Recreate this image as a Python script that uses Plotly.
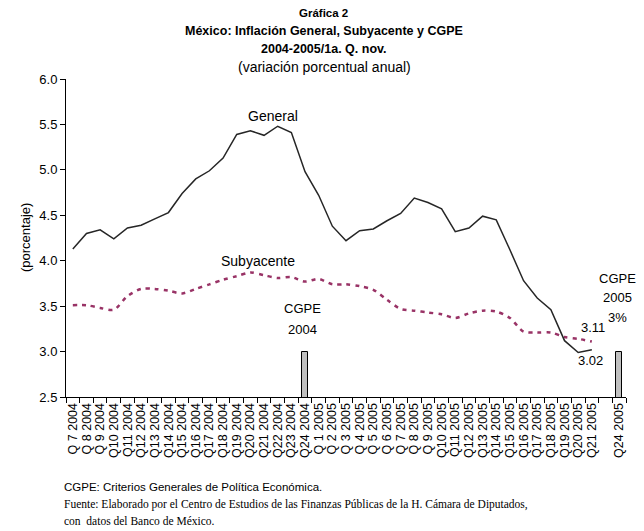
import plotly.graph_objects as go

# ---- data ----
cats_2004 = ["Q 7 2004", "Q 8 2004", "Q 9 2004", "Q10 2004", "Q11 2004", "Q12 2004",
             "Q13 2004", "Q14 2004", "Q15 2004", "Q16 2004", "Q17 2004", "Q18 2004",
             "Q19 2004", "Q20 2004", "Q21 2004", "Q22 2004", "Q23 2004", "Q24 2004"]
cats_2005 = ["Q 1 2005", "Q 2 2005", "Q 3 2005", "Q 4 2005", "Q 5 2005", "Q 6 2005",
             "Q 7 2005", "Q 8 2005", "Q 9 2005", "Q10 2005", "Q11 2005", "Q12 2005",
             "Q13 2005", "Q14 2005", "Q15 2005", "Q16 2005", "Q17 2005", "Q18 2005",
             "Q19 2005", "Q20 2005", "Q21 2005"]
cats_extra = [" ", "Q24 2005"]
categories = cats_2004 + cats_2005 + cats_extra

general = [4.13, 4.30, 4.34, 4.24, 4.36, 4.39, 4.46, 4.53, 4.74, 4.90,
           4.99, 5.13, 5.39, 5.43, 5.38, 5.48, 5.41, 4.98, 4.72, 4.38,
           4.22, 4.33, 4.35, 4.44, 4.52, 4.69, 4.64, 4.57, 4.32, 4.36,
           4.49, 4.45, 4.12, 3.78, 3.59, 3.46, 3.12, 2.99, 3.02]
subyacente = [3.51, 3.51, 3.48, 3.46, 3.61, 3.69, 3.69, 3.67, 3.64, 3.69,
              3.74, 3.79, 3.83, 3.87, 3.84, 3.81, 3.82, 3.77, 3.80, 3.74,
              3.74, 3.72, 3.68, 3.57, 3.47, 3.45, 3.43, 3.41, 3.37, 3.42,
              3.45, 3.44, 3.37, 3.22, 3.21, 3.21, 3.16, 3.14, 3.11]
cgpe_cats = ["Q24 2004", "Q24 2005"]
cgpe_vals = [3.0, 3.0]

y_ticks = [2.5, 3.0, 3.5, 4.0, 4.5, 5.0, 5.5, 6.0]

FONT = "Liberation Sans, Arial, sans-serif"
SERIF = "Liberation Serif, Times New Roman, serif"

fig = go.Figure()
fig.add_trace(go.Bar(x=cgpe_cats, y=cgpe_vals, width=0.42,
                     marker=dict(color="#c0c0c0", line=dict(color="#000000", width=1)),
                     showlegend=False, hoverinfo="skip"))
fig.add_trace(go.Scatter(x=categories[:len(subyacente)], y=subyacente, mode="lines",
                         line=dict(color="#993366", width=2.5, dash="4px,5px", shape="spline", smoothing=0.8),
                         showlegend=False))
fig.add_trace(go.Scatter(x=categories[:len(general)], y=general, mode="lines",
                         line=dict(color="#262626", width=1.5),
                         showlegend=False))

ann = []
def A(text, x, y, size=13, xref="x", yref="y", xanchor="center", yanchor="middle",
      family=FONT, bold=False, angle=0):
    ann.append(dict(text=("<b>%s</b>" % text) if bold else text, x=x, y=y, xref=xref, yref=yref,
                    xanchor=xanchor, yanchor=yanchor, showarrow=False, textangle=angle,
                    font=dict(family=family, size=size, color="#000000")))

# plot area: left 66, right 626, top 79, bottom 397
def py(p):
    return (397 - p) / 318.0
def px(p):
    return (p - 66) / 560.0

A("Gráfica 2", px(323), py(13), size=11.5, xref="paper", yref="paper", bold=True)
A("México: Inflación General, Subyacente y CGPE", px(324), py(31), size=12.5, xref="paper", yref="paper", bold=True)
A("2004-2005/1a. Q. nov.", px(324), py(49), size=12.5, xref="paper", yref="paper", bold=True)
A("(variación porcentual anual)", px(324), py(67), size=14, xref="paper", yref="paper")

A("(porcentaje)", px(25), 0.5, size=13, xref="paper", yref="paper", angle=-90)

A("General", 14.65, 5.59, size=14)
A("Subyacente", 13.56, 4.0, size=14)
A("CGPE", 16.78, 3.47, size=13)
A("2004", 16.78, 3.24, size=13)
A("CGPE", 39.9, 3.80, size=13)
A("2005", 39.9, 3.59, size=13)
A("3%", 39.85, 3.38, size=13)
A("3.11", 38.08, 3.26, size=13)
A("3.02", 37.93, 2.90, size=13)

A("CGPE: Criterios Generales de Política Económica.", px(62), py(487), size=11.5,
  xref="paper", yref="paper", xanchor="left")
A("Fuente: Elaborado por el Centro de Estudios de las Finanzas Públicas de la H. Cámara de Diputados,",
  px(62), py(504), size=11.5, xref="paper", yref="paper", xanchor="left", family=SERIF)
A("con  datos del Banco de México.", px(62), py(521), size=11.5, xref="paper", yref="paper",
  xanchor="left", family=SERIF)

fig.update_layout(
    width=644, height=531,
    margin=dict(l=66, r=18, t=79, b=134, pad=0),
    paper_bgcolor="white", plot_bgcolor="white",
    font=dict(family=FONT, size=13, color="#000000"),
    annotations=ann,
    bargap=0,
    showlegend=False,
    xaxis=dict(type="category", categoryorder="array", categoryarray=categories,
               tickmode="array", tickvals=categories, ticktext=categories,
               range=[-0.5, len(categories) - 0.5], tickson="boundaries",
               ticks="outside", ticklen=5, tickcolor="#000000", tickwidth=1,
               showline=True, linecolor="#000000", linewidth=1, showgrid=False,
               tickangle=-90, tickfont=dict(size=12.5, family=FONT), zeroline=False),
    yaxis=dict(range=[2.5, 6.0], tickvals=y_ticks, tickformat=".1f",
               ticks="outside", ticklen=5, tickcolor="#000000", tickwidth=1,
               showline=True, linecolor="#000000", linewidth=1, showgrid=False,
               zeroline=False, tickfont=dict(size=13, family=FONT)),
)

fig.write_html("out.html", config={"displayModeBar": False},
               post_script="document.body.style.margin='0';document.body.style.overflow='hidden';")
